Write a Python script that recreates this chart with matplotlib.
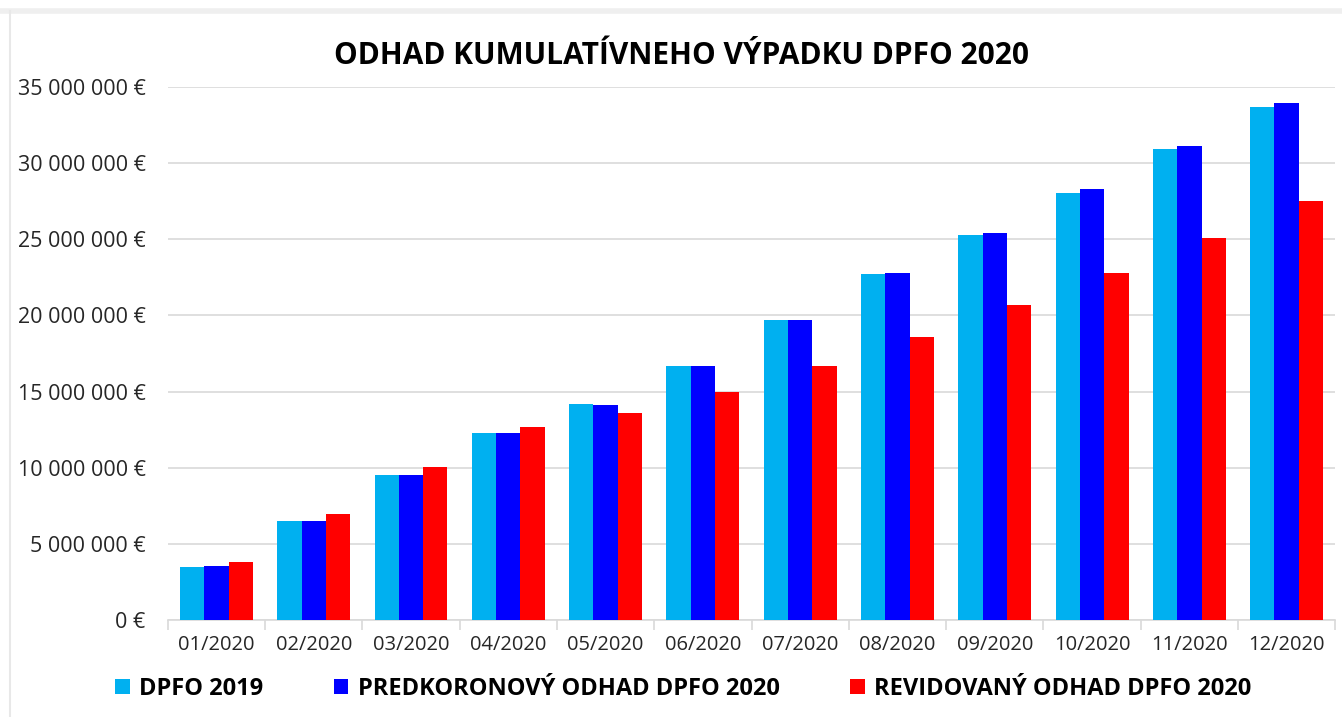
import numpy as np
import matplotlib.pyplot as plt
from matplotlib.lines import Line2D
from matplotlib.ticker import FuncFormatter

plt.rcParams['font.family'] = ['Open Sans', 'DejaVu Sans']

months = ['01/2020', '02/2020', '03/2020', '04/2020', '05/2020', '06/2020',
          '07/2020', '08/2020', '09/2020', '10/2020', '11/2020', '12/2020']

# values in millions of EUR
dpfo_2019 = [3.51, 6.53, 9.55, 12.3, 14.2, 16.7, 19.7, 22.7, 25.3, 28.05, 30.9, 33.7]
predkoronovy = [3.58, 6.53, 9.55, 12.3, 14.1, 16.7, 19.7, 22.75, 25.4, 28.3, 31.1, 33.95]
revidovany = [3.84, 6.99, 10.07, 12.7, 13.6, 15.0, 16.7, 18.6, 20.65, 22.8, 25.1, 27.5]

labels = ['DPFO 2019', 'PREDKORONOVÝ ODHAD DPFO 2020', 'REVIDOVANÝ ODHAD DPFO 2020']
colors = ['#00b0f0', '#0000ff', '#ff0000']

fig = plt.figure(figsize=(13.42, 7.17), dpi=100)
ax = fig.add_axes([0.125, 0.135, 0.87, 0.744])

x = np.arange(len(months))
w = 0.25
series = [dpfo_2019, predkoronovy, revidovany]
for i, vals in enumerate(series):
    ax.bar(x + (i - 1) * w, np.array(vals) * 1e6, w, color=colors[i], label=labels[i], zorder=3)

ax.set_ylim(0, 35e6)
ax.set_xlim(-0.5, len(months) - 0.5)
ax.set_yticks(np.arange(0, 35e6 + 1, 5e6))

def fmt(v, pos):
    if v == 0:
        return '0 €'
    return '{:,.0f} €'.format(v).replace(',', ' ')

ax.yaxis.set_major_formatter(FuncFormatter(fmt))
ax.grid(axis='y', color='#d9d9d9', linewidth=1.2, zorder=0)

ax.set_xticks(x)
ax.set_xticklabels(months)
ax.set_xticks(np.arange(-0.5, len(months)), minor=True)
ax.tick_params(axis='x', which='major', length=0, pad=11, labelsize=14.5)
ax.tick_params(axis='x', which='minor', length=7, color='#d9d9d9', width=1.2)
ax.tick_params(axis='y', length=0, pad=16, labelsize=15.5)
for lab in ax.get_yticklabels() + ax.get_xticklabels():
    lab.set_color('#262626')

for s in ['top', 'right', 'left']:
    ax.spines[s].set_visible(False)
ax.spines['bottom'].set_color('#d9d9d9')
ax.spines['bottom'].set_linewidth(1.2)

fig.text(0.508, 0.922, 'ODHAD KUMULATÍVNEHO VÝPADKU DPFO 2020', ha='center', va='center',
         fontsize=21.5, fontweight='bold', color='black')

leg = fig.legend(loc='center left', bbox_to_anchor=(0.079, 0.039), ncol=3, frameon=False,
                 prop={'weight': 'bold', 'size': 17}, handlelength=0.6, handleheight=0.6,
                 handletextpad=0.4, columnspacing=3.0, borderaxespad=0)

# light frame of the original chart object
fig.add_artist(Line2D([0, 1], [0.985, 0.985], transform=fig.transFigure, color='#efefef', linewidth=4))
fig.add_artist(Line2D([0.0075, 0.0075], [0, 0.985], transform=fig.transFigure, color='#e8e8e8', linewidth=1.5))

fig.savefig('out.png', dpi=100)
